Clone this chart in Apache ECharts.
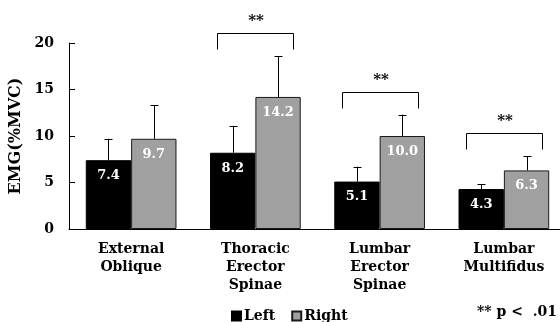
<!DOCTYPE html>
<html>
<head>
<meta charset="utf-8">
<script src="https://cdn.jsdelivr.net/npm/echarts@6/dist/echarts.min.js"></script>
<style>
  html, body { margin: 0; padding: 0; background: #fff; }
  #chart { width: 560px; height: 322px; }
</style>
</head>
<body>
<div id="chart"></div>
<script>
// Muscle groups along the x axis
const categories = ['External\nOblique', 'Thoracic\nErector\nSpinae', 'Lumbar\nErector\nSpinae', 'Lumbar\nMultifidus'];
// Mean EMG (%MVC) per side
const leftMeans = [7.4, 8.2, 5.1, 4.3];
const rightMeans = [9.7, 14.2, 10.0, 6.3];
// Standard deviations (upper error bars)
const leftSD = [2.3, 2.9, 1.6, 0.5];
const rightSD = [3.6, 4.4, 2.3, 1.5];
// Significance brackets: category index and bracket height (EMG units)
const sigCats = [1, 2, 3];
const sigLevels = [21.1, 14.7, 10.3];
const sigMark = '**';
const yTicks = [0, 5, 10, 15, 20];

const SERIF = '"DejaVu Serif", "Liberation Serif", serif';
const GAP_PCT = 27;          // barCategoryGap in percent
const barShare = (100 - GAP_PCT) / 200; // one bar's share of a band

function errorBarSeries(means, sds, side) {
  return {
    type: 'custom',
    silent: true,
    z: 5,
    data: means.map((m, i) => [i, m, m + sds[i]]),
    renderItem: function (params, api) {
      const band = api.size([1, 0])[0];
      const off = side * band * barShare / 2;
      const base = api.coord([api.value(0), api.value(1)]);
      const top = api.coord([api.value(0), api.value(2)]);
      const x = Math.round(base[0] + off) + 0.5;
      const style = { stroke: '#000', lineWidth: 1 };
      return {
        type: 'group',
        children: [
          { type: 'line', shape: { x1: x, y1: base[1], x2: x, y2: top[1] }, style: style },
          { type: 'line', shape: { x1: x - 4, y1: Math.round(top[1]) + 0.5, x2: x + 4, y2: Math.round(top[1]) + 0.5 }, style: style }
        ]
      };
    }
  };
}

const chart = echarts.init(document.getElementById('chart'), null, { renderer: 'canvas' });

chart.setOption({
  backgroundColor: '#fff',
  animation: false,
  textStyle: { fontFamily: SERIF },
  grid: { left: 69, top: 43, width: 497, height: 186, containLabel: false, outerBoundsMode: 'none' },
  legend: {
    left: 231, top: 309, padding: 0,
    itemWidth: 9, itemHeight: 9, itemGap: 16,
    icon: 'rect',
    data: ['Left', 'Right'],
    textStyle: { fontFamily: SERIF, fontWeight: 'bold', fontSize: 14, color: '#000', padding: [0, 0, 0, -2] }
  },
  xAxis: {
    type: 'category',
    data: categories,
    axisLine: { lineStyle: { color: '#000', width: 1 } },
    axisTick: { inside: true, length: 4, lineStyle: { color: '#000' } },
    axisLabel: {
      interval: 0, margin: 11,
      fontFamily: SERIF, fontWeight: 'bold', fontSize: 14, lineHeight: 18, color: '#000'
    }
  },
  yAxis: {
    type: 'value',
    min: 0, max: 20, interval: 5,
    name: 'EMG(%MVC)',
    nameLocation: 'middle',
    nameGap: 41,
    nameTextStyle: { fontFamily: SERIF, fontWeight: 'bold', fontSize: 16, color: '#000' },
    axisLine: { show: true, lineStyle: { color: '#000', width: 1 } },
    axisTick: { show: true, inside: true, length: 6, lineStyle: { color: '#000' } },
    splitLine: { show: false },
    axisLabel: {
      margin: 15,
      fontFamily: SERIF, fontWeight: 'bold', fontSize: 14, color: '#000',
      formatter: v => yTicks.includes(v) ? String(v) : ''
    }
  },
  series: [
    {
      name: 'Left', type: 'bar', data: leftMeans,
      barGap: '0%', barCategoryGap: GAP_PCT + '%',
      itemStyle: { color: '#000', borderColor: '#000', borderWidth: 1 },
      label: {
        show: true, position: 'insideTop', distance: 9,
        color: '#fff', fontFamily: SERIF, fontWeight: 'bold', fontSize: 13,
        formatter: p => p.value.toFixed(1)
      }
    },
    {
      name: 'Right', type: 'bar', data: rightMeans,
      barGap: '0%', barCategoryGap: GAP_PCT + '%',
      itemStyle: { color: '#a0a0a0', borderColor: '#1a1a1a', borderWidth: 1 },
      label: {
        show: true, position: 'insideTop', distance: 9,
        color: '#fff', fontFamily: SERIF, fontWeight: 'bold', fontSize: 13,
        formatter: p => p.value.toFixed(1)
      }
    },
    errorBarSeries(leftMeans, leftSD, -1),
    errorBarSeries(rightMeans, rightSD, 1),
    {
      type: 'custom',
      silent: true,
      clip: false,
      z: 6,
      data: sigCats.map((c, i) => [c, sigLevels[i]]),
      renderItem: function (params, api) {
        const p = api.coord([api.value(0), api.value(1)]);
        const half = 38;
        const leg = 16;
        const cx = Math.round(p[0]);
        const y = Math.round(p[1]) + 0.5;
        return {
          type: 'group',
          children: [
            {
              type: 'polyline',
              shape: { points: [[cx - half + 0.5, y + leg], [cx - half + 0.5, y], [cx + half + 0.5, y], [cx + half + 0.5, y + leg]] },
              style: { stroke: '#000', lineWidth: 1, fill: null }
            },
            {
              type: 'text',
              x: cx + 1, y: y - 12,
              style: {
                text: sigMark, align: 'center', verticalAlign: 'middle',
                font: 'bold 15px ' + SERIF, fill: '#000'
              }
            }
          ]
        };
      }
    }
  ],
  graphic: [
    {
      type: 'text', right: 3, top: 305,
      style: { text: '** p <  .01', font: 'bold 14px ' + SERIF, fill: '#000' }
    }
  ]
});
</script>
</body>
</html>
